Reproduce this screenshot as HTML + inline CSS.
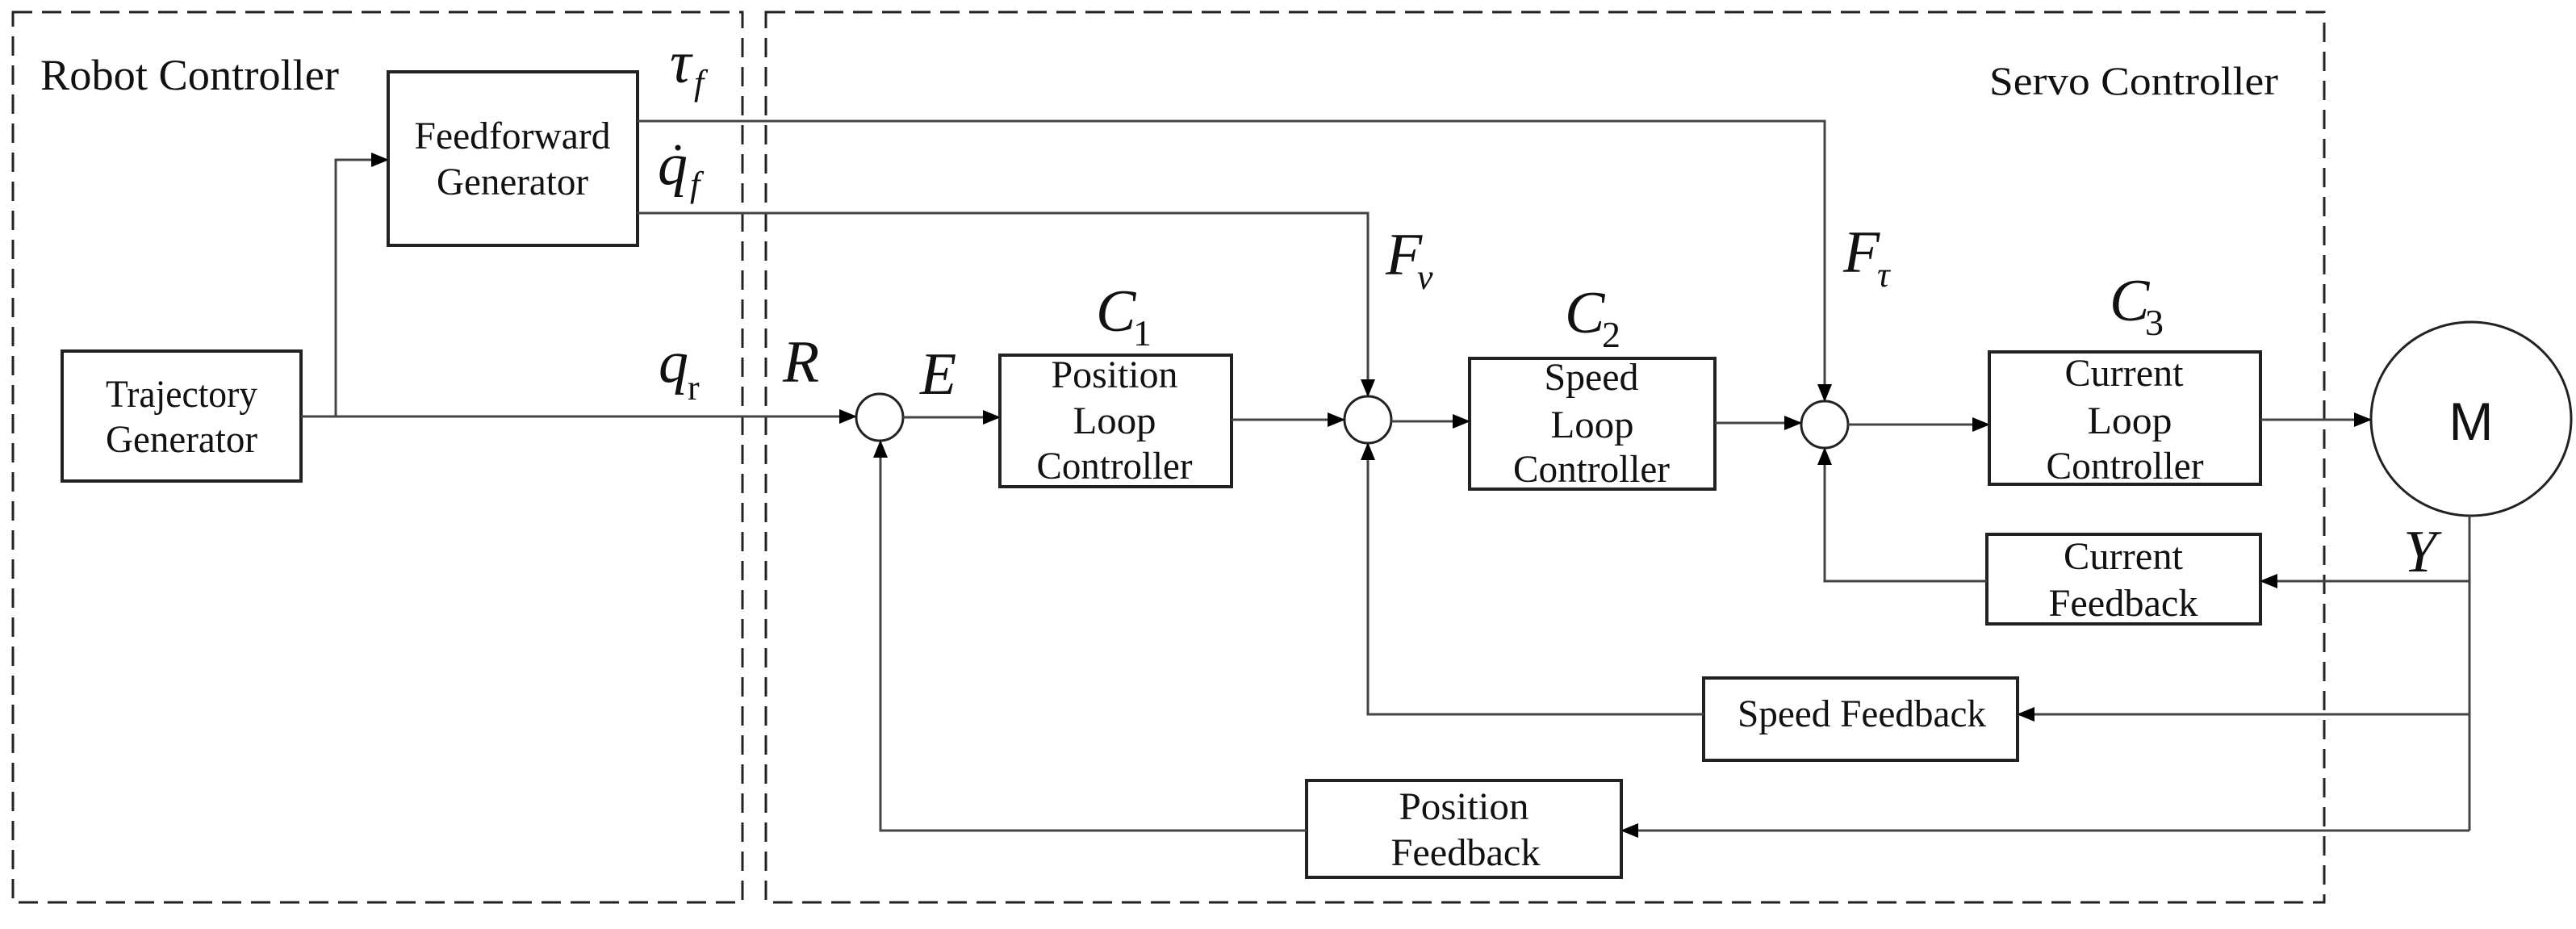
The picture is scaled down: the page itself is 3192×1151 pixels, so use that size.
<!DOCTYPE html>
<html><head><meta charset="utf-8"><style>
html,body{margin:0;padding:0;background:#fff;}
svg{display:block;}
svg text{font-family:"Liberation Serif","Times New Roman",serif;fill:#111;}
.t{font-size:48px;}
.m{font-style:italic;font-size:74px;}
.s{font-style:italic;font-size:44px;}
</style></head><body>
<svg width="3192" height="1151" viewBox="0 0 3192 1151" xmlns="http://www.w3.org/2000/svg" font-family="Liberation Serif, serif">
<defs>
<marker id="a" markerWidth="22" markerHeight="18" refX="21" refY="9" orient="auto" markerUnits="userSpaceOnUse">
<path d="M0,0 L22,9 L0,18 Z" fill="#000"/></marker>
</defs>
<rect x="16" y="15" width="904" height="1103" fill="none" stroke="#222" stroke-width="3" stroke-dasharray="24 12"/>
<rect x="949" y="15" width="1931" height="1103" fill="none" stroke="#222" stroke-width="3" stroke-dasharray="24 12"/>
<text class="t" x="50" y="111" textLength="370" lengthAdjust="spacingAndGlyphs" style="font-size:54px">Robot Controller</text>
<text class="t" x="2465" y="117" textLength="358" lengthAdjust="spacingAndGlyphs" style="font-size:50px">Servo Controller</text>

<g fill="none" stroke="#222" stroke-width="4">
<rect x="481" y="89" width="309" height="215"/>
<rect x="77" y="435" width="296" height="161"/>
<rect x="1239" y="440" width="287" height="163"/>
<rect x="1821" y="444" width="304" height="162"/>
<rect x="2465" y="436" width="336" height="164"/>
<rect x="2462" y="662" width="339" height="111"/>
<rect x="2111" y="840" width="389" height="102"/>
<rect x="1619" y="967" width="390" height="120"/>
</g>
<g fill="none" stroke="#222" stroke-width="3">
<circle cx="1090" cy="517" r="29"/>
<circle cx="1695" cy="520" r="29"/>
<circle cx="2261" cy="526" r="29"/>
<ellipse cx="3062" cy="519" rx="124" ry="120"/>
</g>

<g fill="none" stroke="#444" stroke-width="3">
<line x1="373" y1="516" x2="1061" y2="516" marker-end="url(#a)"/>
<polyline points="416,516 416,198 481,198" marker-end="url(#a)"/>
<line x1="1119" y1="517" x2="1239" y2="517" marker-end="url(#a)"/>
<line x1="1526" y1="520" x2="1666" y2="520" marker-end="url(#a)"/>
<line x1="1724" y1="522" x2="1821" y2="522" marker-end="url(#a)"/>
<line x1="2125" y1="524" x2="2232" y2="524" marker-end="url(#a)"/>
<line x1="2290" y1="526" x2="2465" y2="526" marker-end="url(#a)"/>
<line x1="2801" y1="520" x2="2938" y2="520" marker-end="url(#a)"/>
<polyline points="790,150 2261,150 2261,497" marker-end="url(#a)"/>
<polyline points="790,264 1695,264 1695,491" marker-end="url(#a)"/>
<line x1="3060" y1="639" x2="3060" y2="1029"/>
<line x1="3060" y1="720" x2="2801" y2="720" marker-end="url(#a)"/>
<polyline points="2462,720 2261,720 2261,555" marker-end="url(#a)"/>
<line x1="3060" y1="885" x2="2500" y2="885" marker-end="url(#a)"/>
<polyline points="2111,885 1695,885 1695,549" marker-end="url(#a)"/>
<line x1="3060" y1="1029" x2="2009" y2="1029" marker-end="url(#a)"/>
<polyline points="1619,1029 1091,1029 1091,546" marker-end="url(#a)"/>
</g>

<g class="t" text-anchor="middle">
<text x="635" y="184" textLength="243" lengthAdjust="spacingAndGlyphs">Feedforward</text>
<text x="635" y="241" textLength="188" lengthAdjust="spacingAndGlyphs">Generator</text>
<text x="225" y="504" textLength="188" lengthAdjust="spacingAndGlyphs">Trajectory</text>
<text x="225" y="560" textLength="188" lengthAdjust="spacingAndGlyphs">Generator</text>
<text x="1381" y="480" textLength="157" lengthAdjust="spacingAndGlyphs">Position</text>
<text x="1381" y="537" textLength="103" lengthAdjust="spacingAndGlyphs">Loop</text>
<text x="1381" y="593" textLength="193" lengthAdjust="spacingAndGlyphs">Controller</text>
<text x="1972" y="483" textLength="117" lengthAdjust="spacingAndGlyphs">Speed</text>
<text x="1973" y="542" textLength="103" lengthAdjust="spacingAndGlyphs">Loop</text>
<text x="1972" y="597" textLength="194" lengthAdjust="spacingAndGlyphs">Controller</text>
<text x="2632" y="478" textLength="147" lengthAdjust="spacingAndGlyphs">Current</text>
<text x="2639" y="537" textLength="105" lengthAdjust="spacingAndGlyphs">Loop</text>
<text x="2633" y="593" textLength="195" lengthAdjust="spacingAndGlyphs">Controller</text>
<text x="2631" y="705" textLength="148" lengthAdjust="spacingAndGlyphs">Current</text>
<text x="2631" y="763" textLength="185" lengthAdjust="spacingAndGlyphs">Feedback</text>
<text x="2307" y="900" textLength="308" lengthAdjust="spacingAndGlyphs">Speed Feedback</text>
<text x="1814" y="1015" textLength="161" lengthAdjust="spacingAndGlyphs">Position</text>
<text x="1816" y="1072" textLength="185" lengthAdjust="spacingAndGlyphs">Feedback</text>
</g>

<text class="m" x="830" y="102">τ</text><text class="s" x="860" y="117">f</text>
<text class="m" x="815" y="228">q</text><circle cx="840" cy="183" r="3.5" fill="#111"/><text class="s" x="855" y="243">f</text>
<text class="m" x="816" y="473">q</text><text x="852" y="495" style="font-size:44px">r</text>
<text class="m" x="970" y="473">R</text>
<text class="m" x="1140" y="488">E</text>
<text class="m" x="1358" y="410">C</text><text x="1404" y="428" style="font-size:46px">1</text>
<text class="m" x="1939" y="412">C</text><text x="1985" y="430" style="font-size:46px">2</text>
<text class="m" x="2614" y="397">C</text><text x="2658" y="415" style="font-size:46px">3</text>
<text class="m" x="1717" y="340">F</text><text class="s" x="1756" y="358">v</text>
<text class="m" x="2284" y="337">F</text><text class="s" x="2326" y="355">τ</text>
<text class="m" x="2978" y="708">Y</text>
<text x="3062" y="545" text-anchor="middle" style="font-family:'Liberation Sans',sans-serif;font-size:66px">M</text>
</svg>
</body></html>
